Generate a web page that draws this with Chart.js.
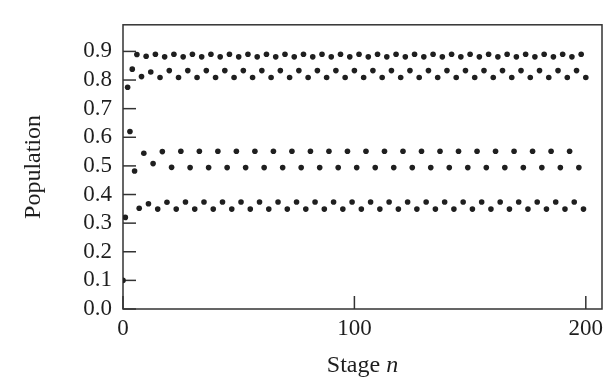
<!DOCTYPE html>
<html>
<head>
<meta charset="utf-8">
<script src="https://cdn.jsdelivr.net/npm/chart.js@4/dist/chart.umd.min.js"></script>
<style>
  html, body { margin: 0; padding: 0; background: #fff; }
  #wrap { width: 614px; height: 384px; }
</style>
</head>
<body>
<div id="wrap"><canvas id="popChart" width="614" height="384"></canvas></div>
<script>
// population at each stage n = 0..200
var population = [
  0.100, 0.320, 0.775, 0.620, 0.838, 0.482, 0.889, 0.352,
  0.812, 0.544, 0.883, 0.368, 0.828, 0.508, 0.890, 0.349,
  0.809, 0.550, 0.881, 0.373, 0.833, 0.495, 0.890, 0.349,
  0.809, 0.551, 0.881, 0.374, 0.833, 0.494, 0.890, 0.349,
  0.809, 0.551, 0.881, 0.374, 0.833, 0.494, 0.890, 0.349,
  0.809, 0.551, 0.881, 0.374, 0.833, 0.494, 0.890, 0.349,
  0.809, 0.551, 0.881, 0.374, 0.833, 0.494, 0.890, 0.349,
  0.809, 0.551, 0.881, 0.374, 0.833, 0.494, 0.890, 0.349,
  0.809, 0.551, 0.881, 0.374, 0.833, 0.494, 0.890, 0.349,
  0.809, 0.551, 0.881, 0.374, 0.833, 0.494, 0.890, 0.349,
  0.809, 0.551, 0.881, 0.374, 0.833, 0.494, 0.890, 0.349,
  0.809, 0.551, 0.881, 0.374, 0.833, 0.494, 0.890, 0.349,
  0.809, 0.551, 0.881, 0.374, 0.833, 0.494, 0.890, 0.349,
  0.809, 0.551, 0.881, 0.374, 0.833, 0.494, 0.890, 0.349,
  0.809, 0.551, 0.881, 0.374, 0.833, 0.494, 0.890, 0.349,
  0.809, 0.551, 0.881, 0.374, 0.833, 0.494, 0.890, 0.349,
  0.809, 0.551, 0.881, 0.374, 0.833, 0.494, 0.890, 0.349,
  0.809, 0.551, 0.881, 0.374, 0.833, 0.494, 0.890, 0.349,
  0.809, 0.551, 0.881, 0.374, 0.833, 0.494, 0.890, 0.349,
  0.809, 0.551, 0.881, 0.374, 0.833, 0.494, 0.890, 0.349,
  0.809, 0.551, 0.881, 0.374, 0.833, 0.494, 0.890, 0.349,
  0.809, 0.551, 0.881, 0.374, 0.833, 0.494, 0.890, 0.349,
  0.809, 0.551, 0.881, 0.374, 0.833, 0.494, 0.890, 0.349,
  0.809, 0.551, 0.881, 0.374, 0.833, 0.494, 0.890, 0.349,
  0.809, 0.551, 0.881, 0.374, 0.833, 0.494, 0.890, 0.349,
  0.809
];
var xTicks = [0, 100, 200];
var yTicks = [0.0, 0.1, 0.2, 0.3, 0.4, 0.5, 0.6, 0.7, 0.8, 0.9];
var xTitle = "Stage";
var xTitleVar = "n";
var yTitle = "Population";

var serif = "'Liberation Serif', 'Times New Roman', serif";
var ink = "#1e1e1e";

var points = population.map(function (v, n) { return { x: n, y: v }; });

// box round the plot, with short ticks pointing inward
var frameTicks = {
  id: "frameTicks",
  beforeDatasetsDraw: function (chart) {
    var a = chart.chartArea;
    var ctx = chart.ctx;
    ctx.save();
    ctx.strokeStyle = "#333";
    ctx.lineWidth = 1.5;
    ctx.strokeRect(a.left, a.top, a.right - a.left, a.bottom - a.top);
    var len = 13;
    yTicks.forEach(function (v) {
      var py = chart.scales.y.getPixelForValue(v);
      ctx.beginPath();
      ctx.moveTo(a.left, py);
      ctx.lineTo(a.left + len, py);
      ctx.stroke();
    });
    xTicks.forEach(function (v) {
      var px = chart.scales.x.getPixelForValue(v);
      ctx.beginPath();
      ctx.moveTo(px, a.bottom);
      ctx.lineTo(px, a.bottom - len);
      ctx.stroke();
    });
    ctx.restore();
  },
  afterDraw: function (chart) {
    // x title: "Stage" upright, "n" italic
    var a = chart.chartArea;
    var ctx = chart.ctx;
    ctx.save();
    ctx.fillStyle = ink;
    ctx.textBaseline = "middle";
    var f1 = "24px " + serif;
    var f2 = "italic 24px " + serif;
    ctx.font = f1;
    var w1 = ctx.measureText(xTitle + " ").width;
    ctx.font = f2;
    var w2 = ctx.measureText(xTitleVar).width;
    var x0 = (a.left + a.right) / 2 - (w1 + w2) / 2;
    var y0 = 366;
    ctx.font = f1;
    ctx.fillText(xTitle + " ", x0, y0);
    ctx.font = f2;
    ctx.fillText(xTitleVar, x0 + w1, y0);
    ctx.restore();
  }
};

new Chart(document.getElementById("popChart").getContext("2d"), {
  type: "scatter",
  data: {
    datasets: [{
      label: yTitle,
      data: points,
      pointRadius: 2.8,
      pointHoverRadius: 2.8,
      pointBackgroundColor: "#1f1f1f",
      pointBorderWidth: 0
    }]
  },
  options: {
    responsive: false,
    animation: false,
    devicePixelRatio: 1,
    layout: { padding: { top: 7, right: 12, left: 0, bottom: 0 } },
    plugins: {
      legend: { display: false },
      tooltip: { enabled: false }
    },
    scales: {
      x: {
        type: "linear",
        min: 0,
        max: 207,
        afterBuildTicks: function (scale) {
          scale.ticks = xTicks.map(function (v) { return { value: v }; });
        },
        afterFit: function (scale) { scale.height = 75; },
        grid: { display: false, drawTicks: false },
        border: { display: false },
        ticks: {
          color: ink,
          padding: 6,
          maxRotation: 0,
          autoSkip: false,
          font: { family: serif, size: 23 },
          callback: function (v) { return String(v); }
        }
      },
      y: {
        type: "linear",
        min: 0,
        max: 0.993,
        afterBuildTicks: function (scale) {
          scale.ticks = yTicks.map(function (v) { return { value: v }; });
        },
        afterFit: function (scale) { scale.width = 123; },
        grid: { display: false, drawTicks: false },
        border: { display: false },
        title: {
          display: true,
          text: yTitle,
          color: ink,
          font: { family: serif, size: 24 },
          padding: { top: 19, bottom: 0 }
        },
        ticks: {
          color: ink,
          padding: 11,
          autoSkip: false,
          font: { family: serif, size: 23 },
          callback: function (v) { return Number(v).toFixed(1); }
        }
      }
    }
  },
  plugins: [frameTicks]
});
</script>
</body>
</html>
